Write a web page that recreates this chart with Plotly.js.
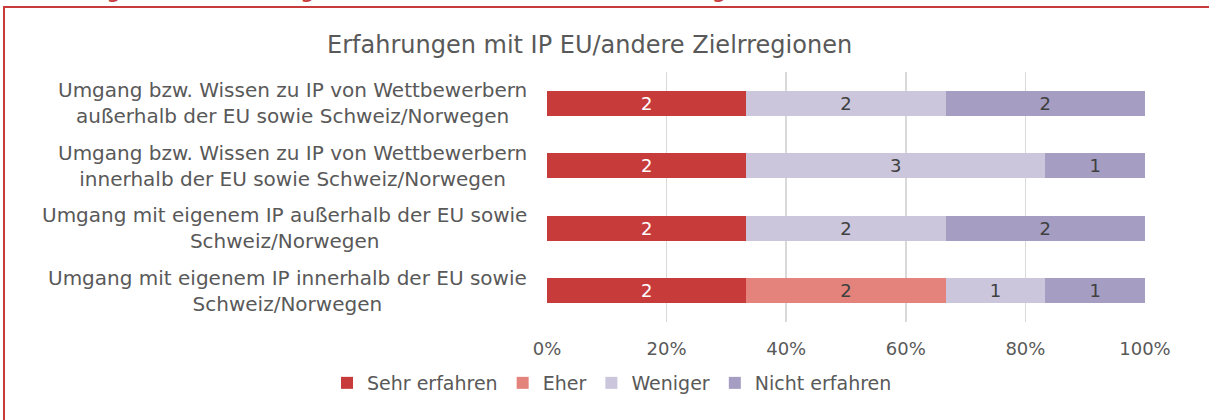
<!DOCTYPE html>
<html>
<head>
<meta charset="utf-8">
<script src="https://cdn.plot.ly/plotly-3.0.1.min.js"></script>
<style>
  html, body { margin: 0; padding: 0; background: #ffffff; }
  #chart { width: 1209px; height: 420px; }
</style>
</head>
<body>
<div id="chart"></div>
<script>
// ---- data ----
const categories = [
  "Umgang bzw. Wissen zu IP von Wettbewerbern<br>außerhalb der EU sowie Schweiz/Norwegen",
  "Umgang bzw. Wissen zu IP von Wettbewerbern<br>innerhalb der EU sowie Schweiz/Norwegen",
  "Umgang mit eigenem IP außerhalb der EU sowie<br>Schweiz/Norwegen",
  "Umgang mit eigenem IP innerhalb der EU sowie<br>Schweiz/Norwegen"
];
const seriesNames = ["Sehr erfahren", "Eher", "Weniger", "Nicht erfahren"];
const sehrErfahren  = [2, 2, 2, 2];
const eher          = [0, 0, 0, 2];
const weniger       = [2, 3, 2, 1];
const nichtErfahren = [2, 1, 2, 1];
const xTickVals   = [0, 20, 40, 60, 80, 100];
const xTickLabels = ["0%", "20%", "40%", "60%", "80%", "100%"];
const chartTitle = "Erfahrungen mit IP EU/andere Zielrregionen";
const captionNumber = "Abbildung 26";
const captionText = "Erfahrungen mit IP in verschiedenen Zielregionen";

// ---- styles ----
const FONT = "DejaVu Sans, Noto Sans, sans-serif";
const colors = ["#C83B3B", "#E3837C", "#CBC6DC", "#A59EC2"];
const textColors = ["#FFFFFF", "#404040", "#404040", "#404040"];
const seriesValues = [sehrErfahren, eher, weniger, nichtErfahren];

const W = 1209, H = 420;
const L = 547, R = 64, T = 72, B = 98;
const pw = W - L - R, ph = H - T - B;
const px2x = p => (p - L) / pw;
const py2y = p => 1 - (p - T) / ph;

const traces = seriesValues.map((vals, i) => ({
  type: "bar",
  orientation: "h",
  name: seriesNames[i],
  y: categories,
  x: vals,
  text: vals.map(v => v ? String(v) : ""),
  textposition: "inside",
  insidetextanchor: "middle",
  textangle: 0,
  constraintext: "none",
  textfont: { family: FONT, size: 18, color: textColors[i] },
  marker: { color: colors[i], line: { width: 0 } },
  hoverinfo: "skip"
}));

const annotations = categories.map(c => ({
  xref: "paper", yref: "y",
  x: px2x(529), y: c,
  xanchor: "right", yanchor: "middle",
  align: "center",
  text: c,
  showarrow: false,
  font: { family: FONT, size: 20, color: "#595959" }
}));

annotations.push({
  xref: "paper", yref: "paper",
  x: px2x(589), y: py2y(45),
  xanchor: "center", yanchor: "middle",
  text: chartTitle, showarrow: false,
  font: { family: FONT, size: 24, color: "#595959" }
});
annotations.push({
  xref: "paper", yref: "paper",
  x: px2x(-2), y: py2y(5),
  xanchor: "left", yanchor: "bottom",
  text: "<i>" + captionNumber + "</i>", showarrow: false,
  font: { family: FONT, size: 24, color: "#C83B3B" }
});
annotations.push({
  xref: "paper", yref: "paper",
  x: px2x(196), y: py2y(5),
  xanchor: "left", yanchor: "bottom",
  text: "<i>" + captionText + "</i>", showarrow: false,
  font: { family: FONT, size: 24, color: "#C83B3B" }
});

const shapes = [
  { type: "line", xref: "paper", yref: "paper",
    x0: px2x(4), x1: px2x(4), y0: py2y(7), y1: py2y(425),
    line: { color: "#C83B3B", width: 2 } },
  { type: "line", xref: "paper", yref: "paper",
    x0: px2x(3), x1: px2x(1215), y0: py2y(7), y1: py2y(7),
    line: { color: "#C83B3B", width: 2 } }
];

const layout = {
  width: W, height: H,
  margin: { l: L, r: R, t: T, b: B, pad: 0 },
  paper_bgcolor: "#ffffff",
  plot_bgcolor: "#ffffff",
  barmode: "stack",
  barnorm: "percent",
  bargap: 0.6,
  showlegend: true,
  legend: {
    orientation: "h",
    x: px2x(612), xanchor: "center",
    y: py2y(364), yanchor: "top",
    font: { family: FONT, size: 19, color: "#595959" },
    traceorder: "normal",
    itemwidth: 30
  },
  xaxis: {
    range: [0, 100],
    tickvals: xTickVals,
    ticktext: xTickLabels,
    showgrid: true,
    gridcolor: "#D9D9D9",
    gridwidth: 1.5,
    zeroline: false,
    showline: false,
    ticks: "",
    ticklabelstandoff: 14,
    tickfont: { family: FONT, size: 18, color: "#595959" },
    fixedrange: true
  },
  yaxis: {
    type: "category",
    autorange: "reversed",
    showticklabels: false,
    showgrid: false,
    zeroline: false,
    showline: false,
    ticks: "",
    fixedrange: true
  },
  annotations: annotations,
  shapes: shapes,
  font: { family: FONT }
};

Plotly.newPlot("chart", traces, layout, { displayModeBar: false, staticPlot: true });
</script>
</body>
</html>
